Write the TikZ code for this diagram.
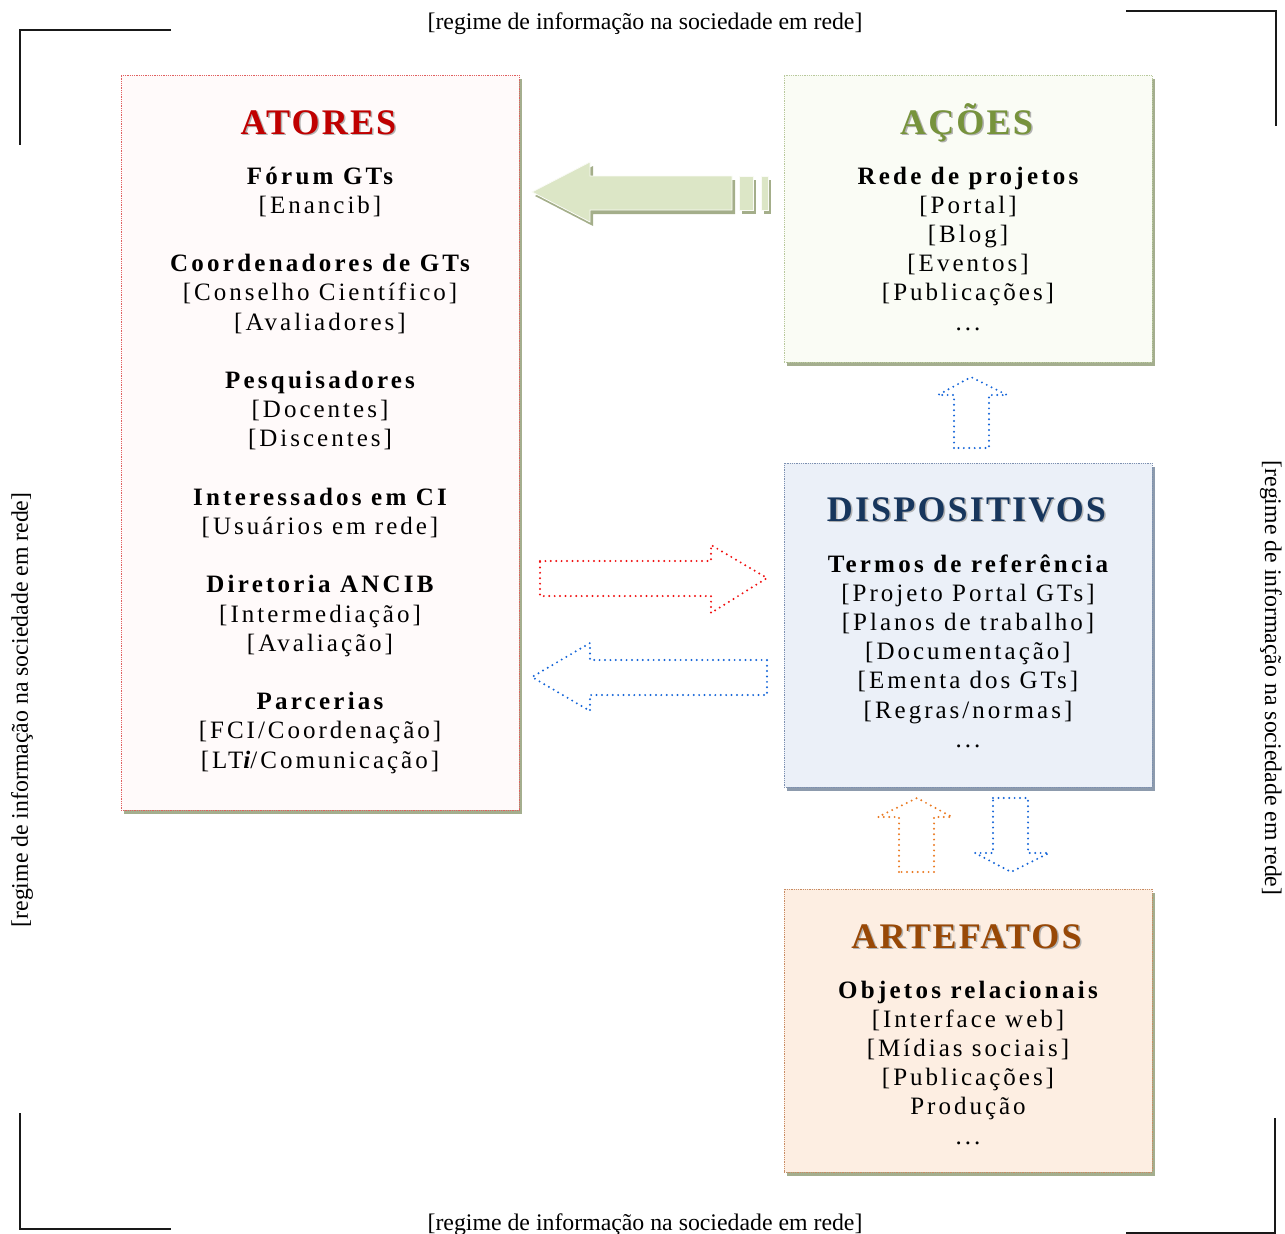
\documentclass[tikz,border=0pt]{standalone}
\usepackage{fontspec}
\setmainfont{Liberation Serif}
\newfontfamily\boxfont[LetterSpace=12]{Liberation Serif}
\newfontfamily\boxboldfont[LetterSpace=13]{Liberation Serif}
\newfontfamily\headfont[LetterSpace=6]{Liberation Serif}
\usetikzlibrary{shadows}

\definecolor{atRed}{HTML}{C00000}
\definecolor{acGreen}{HTML}{77933C}
\definecolor{diNavy}{HTML}{17365D}
\definecolor{arBrown}{HTML}{984806}
\definecolor{atFill}{HTML}{FFFAFA}
\definecolor{acFill}{HTML}{FAFCF5}
\definecolor{diFill}{HTML}{EBF0F8}
\definecolor{arFill}{HTML}{FDEEE2}
\definecolor{atEdge}{HTML}{E06060}
\definecolor{acEdge}{HTML}{B8C89C}
\definecolor{diEdge}{HTML}{7D90B0}
\definecolor{arEdge}{HTML}{C88C64}
\definecolor{olShade}{HTML}{A4AE8E}
\definecolor{blShade}{HTML}{8D9BAD}
\definecolor{bigFill}{HTML}{DCE6C6}
\definecolor{bigShade}{HTML}{A4AE8A}
\definecolor{dotRed}{HTML}{F01010}
\definecolor{dotBlue}{HTML}{1565D8}
\definecolor{dotOrange}{HTML}{EA7A22}

\tikzset{
  panel/.style={rectangle, inner sep=0pt, outer sep=0pt, line width=0.8pt,
    densely dotted},
  panelshade/.style={drop shadow={shadow xshift=3pt, shadow yshift=-4pt,
    opacity=1, fill=#1}},
  headline/.style={anchor=base, inner sep=0pt, text=#1,
    font=\headfont\bfseries\fontsize{36}{40}\selectfont},
  headglow/.style={anchor=base, inner sep=0pt, text=black!30,
    font=\headfont\bfseries\fontsize{36}{40}\selectfont},
  txt/.style={anchor=base, inner sep=0pt, font=\boxfont\fontsize{25}{29}\selectfont},
  txtb/.style={txt, font=\boxboldfont\bfseries\fontsize{25}{29}\selectfont},
  frame/.style={line width=1.8pt, black!90},
  margintxt/.style={inner sep=0pt, font=\fontsize{23.8}{28}\selectfont},
  dotarrow/.style={draw=#1, line width=2.2pt, line cap=round, line join=round,
    dash pattern=on 0pt off 5.4pt},
}

\begin{document}
\begin{tikzpicture}[x=1pt,y=-1pt]
\useasboundingbox (0,0) rectangle (1285,1234);

% corner brackets
\draw[frame] (171,30) -- (20,30) -- (20,145);
\draw[frame] (1126,11) -- (1276,11) -- (1276,126);
\draw[frame] (20,1113) -- (20,1229) -- (171,1229);
\draw[frame] (1275,1118) -- (1275,1233) -- (1126,1233);

% margin captions
\node[margintxt] (capTop) at (645,24) {[regime de informação na sociedade em rede]};
\node[margintxt] (capBot) at (645,1225) {[regime de informação na sociedade em rede]};
\node[margintxt, rotate=90] (capLeft) at (22,710) {[regime de informação na sociedade em rede]};
\node[margintxt, rotate=-90] (capRight) at (1271,678) {[regime de informação na sociedade em rede]};

% panels
\node[panel, panelshade=olShade, draw=atEdge, fill=atFill,
  minimum width=398pt, minimum height=735pt] (atores) at (320,442.5) {};
\node[panel, panelshade=olShade, draw=acEdge, fill=acFill,
  minimum width=368pt, minimum height=287pt] (acoes) at (968,218.5) {};
\node[panel, panelshade=blShade, draw=diEdge, fill=diFill,
  minimum width=368pt, minimum height=324pt] (dispositivos) at (968,625) {};
\node[panel, panelshade=olShade, draw=arEdge, fill=arFill,
  minimum width=368pt, minimum height=283pt] (artefatos) at (968,1030.5) {};

% headings
\node[headglow] (atoresG) at (320,135.5) {ATORES};
\node[headline=atRed] (atoresH) at (318.5,134) {ATORES};
\node[headglow] (acoesG) at (968,135.5) {AÇÕES};
\node[headline=acGreen] (acoesH) at (966.5,134) {AÇÕES};
\node[headglow] (dispG) at (968,522.5) {DISPOSITIVOS};
\node[headline=diNavy] (dispH) at (966.5,521) {DISPOSITIVOS};
\node[headglow] (artG) at (968,949.5) {ARTEFATOS};
\node[headline=arBrown] (artH) at (966.5,948) {ARTEFATOS};

% ATORES contents (baseline pitch 29.2)
\node[txtb] (a0)  at (320,184.0) {Fórum GTs};
\node[txt]  (a1)  at (320,213.2) {[Enancib]};
\node[txtb] (a3)  at (320,271.6) {Coordenadores de GTs};
\node[txt]  (a4)  at (320,300.8) {[Conselho Científico]};
\node[txt]  (a5)  at (320,330.0) {[Avaliadores]};
\node[txtb] (a7)  at (320,388.4) {Pesquisadores};
\node[txt]  (a8)  at (320,417.6) {[Docentes]};
\node[txt]  (a9)  at (320,446.8) {[Discentes]};
\node[txtb] (a11) at (320,505.2) {Interessados em CI};
\node[txt]  (a12) at (320,534.4) {[Usuários em rede]};
\node[txtb] (a14) at (320,592.8) {Diretoria ANCIB};
\node[txt]  (a15) at (320,622.0) {[Intermediação]};
\node[txt]  (a16) at (320,651.2) {[Avaliação]};
\node[txtb] (a18) at (320,709.6) {Parcerias};
\node[txt]  (a19) at (320,738.8) {[FCI/Coordenação]};
\node[txt]  (a20) at (320,768.0) {[LT{\bfseries\itshape i}/Comunicação]};

% AÇÕES contents
\node[txtb] (c0) at (968,184.0) {Rede de projetos};
\node[txt]  (c1) at (968,213.2) {[Portal]};
\node[txt]  (c2) at (968,242.4) {[Blog]};
\node[txt]  (c3) at (968,271.6) {[Eventos]};
\node[txt]  (c4) at (968,300.8) {[Publicações]};
\node[txt]  (c5) at (968,330.0) {...};

% DISPOSITIVOS contents
\node[txtb] (d0) at (968,572.0) {Termos de referência};
\node[txt]  (d1) at (968,601.2) {[Projeto Portal GTs]};
\node[txt]  (d2) at (968,630.4) {[Planos de trabalho]};
\node[txt]  (d3) at (968,659.6) {[Documentação]};
\node[txt]  (d4) at (968,688.8) {[Ementa dos GTs]};
\node[txt]  (d5) at (968,718.0) {[Regras/normas]};
\node[txt]  (d6) at (968,747.2) {...};

% ARTEFATOS contents
\node[txtb] (r0) at (968,998.0) {Objetos relacionais};
\node[txt]  (r1) at (968,1027.2) {[Interface web]};
\node[txt]  (r2) at (968,1056.4) {[Mídias sociais]};
\node[txt]  (r3) at (968,1085.6) {[Publicações]};
\node[txt]  (r4) at (968,1114.8) {Produção};
\node[txt]  (r5) at (968,1144.0) {...};

% broad striped arrow from AÇÕES towards ATORES
\begin{scope}[shift={(3,4)}]
  \fill[bigShade] (532,192) -- (590,162) -- (590,176) -- (732,176) -- (732,210)
    -- (590,210) -- (590,222) -- cycle;
  \fill[bigShade] (739,176) rectangle (753,210);
  \fill[bigShade] (761,176) rectangle (768,210);
\end{scope}
\filldraw[fill=bigFill, draw=white!85!bigFill, line width=0.8pt]
  (532,192) -- (590,162) -- (590,176) -- (732,176) -- (732,210)
  -- (590,210) -- (590,222) -- cycle;
\filldraw[fill=bigFill, draw=white!85!bigFill, line width=0.8pt] (739,176) rectangle (753,210);
\filldraw[fill=bigFill, draw=white!85!bigFill, line width=0.8pt] (761,176) rectangle (768,210);

% dotted outline arrows
\draw[dotarrow=dotRed] (540,561) -- (711,561) -- (711,545) -- (767,578)
  -- (711,613) -- (711,596) -- (540,596) -- cycle;
\draw[dotarrow=dotBlue] (767,660) -- (590,660) -- (590,643) -- (532,677)
  -- (590,711) -- (590,695) -- (767,695) -- cycle;
\draw[dotarrow=dotBlue] (954,448) -- (954,395) -- (938,395) -- (971,377)
  -- (1007,395) -- (989,395) -- (989,448) -- cycle;
\draw[dotarrow=dotOrange] (899,872) -- (899,817) -- (878,817) -- (917,798)
  -- (952,817) -- (934,817) -- (934,872) -- cycle;
\draw[dotarrow=dotBlue] (993,798) -- (1028,798) -- (1028,853) -- (1049,853)
  -- (1011,872) -- (975,853) -- (993,853) -- cycle;
\end{tikzpicture}
\end{document}
